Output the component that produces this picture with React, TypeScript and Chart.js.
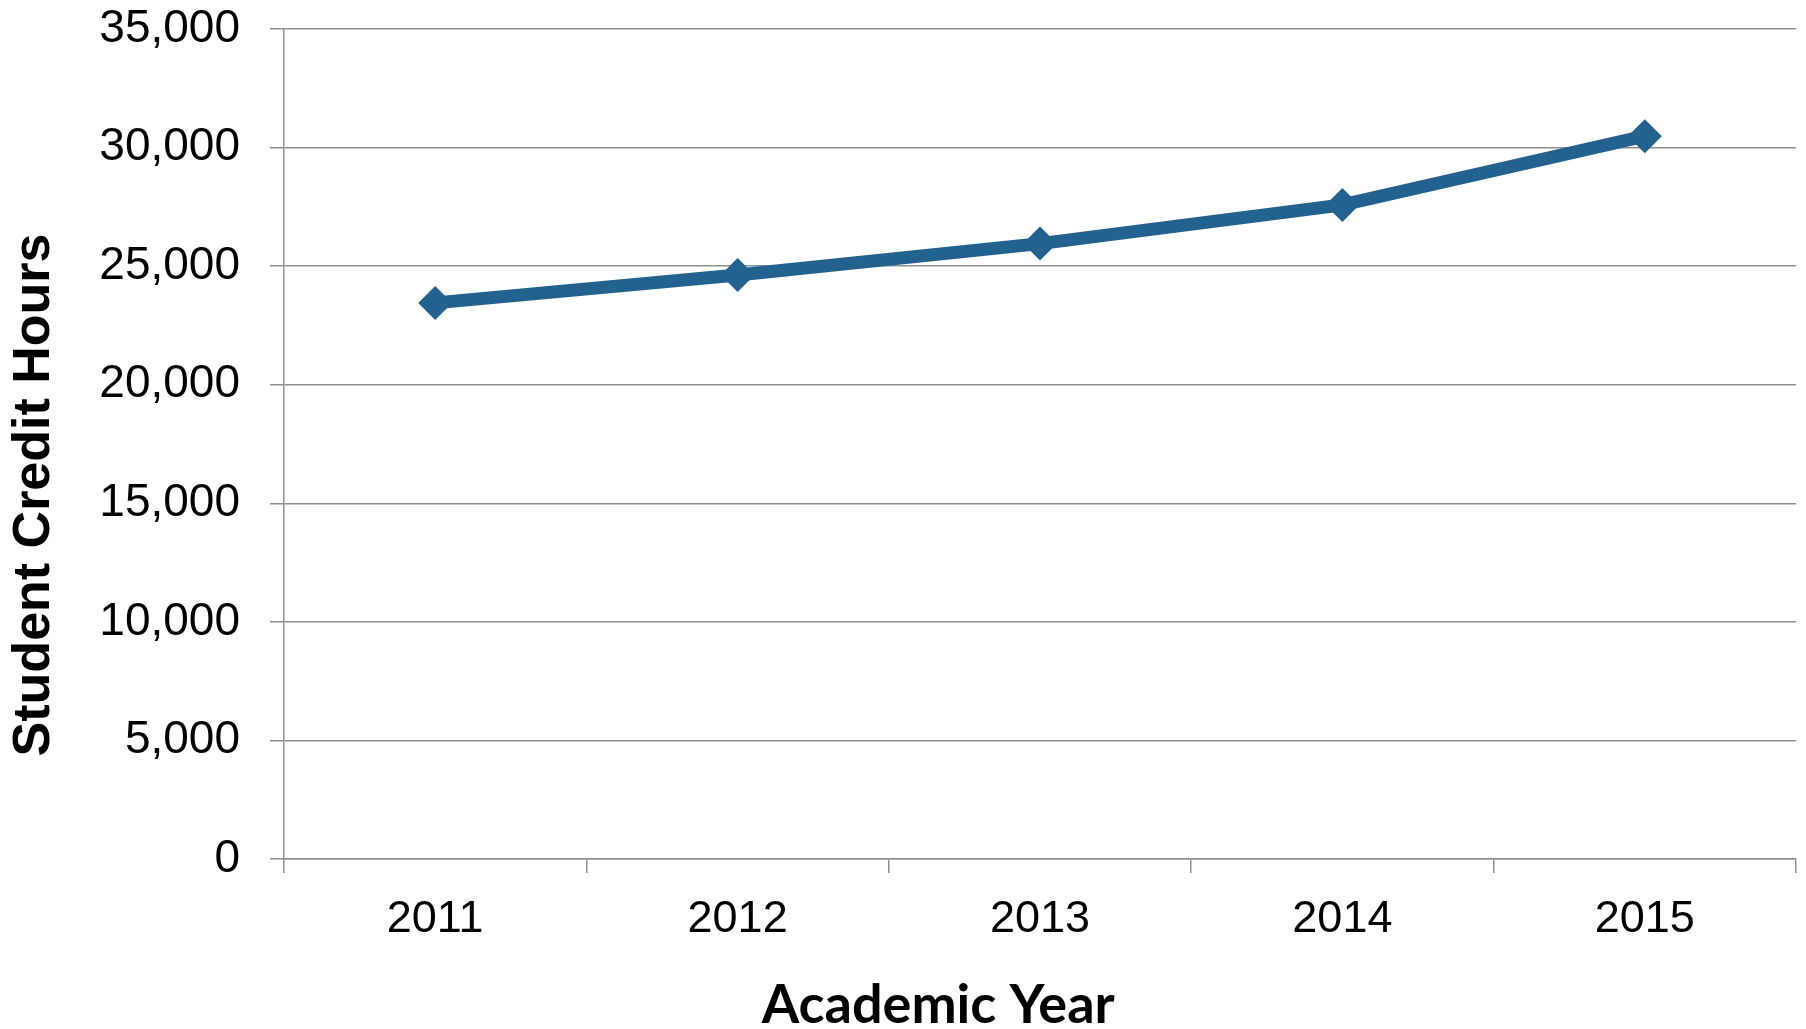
import React, { useEffect, useRef } from "react";
import { Chart, registerables } from "chart.js";

Chart.register(...registerables);

const years: string[] = ["2011", "2012", "2013", "2014", "2015"];
const creditHours: number[] = [23450, 24630, 25950, 27580, 30480];
const yMin = 0;
const yMax = 35000;
const yStep = 5000;
const xTitle = "Academic Year";
const yTitle = "Student Credit Hours";

const W = 1806;
const H = 1029;

export default function App() {
  const ref = useRef<HTMLCanvasElement | null>(null);

  useEffect(() => {
    document.body.style.margin = "0";
    const canvas = ref.current;
    if (!canvas) return;

    const titlePlugin = {
      id: "axisTitles",
      afterDraw(chart: any) {
        const ctx = chart.ctx as CanvasRenderingContext2D;
        ctx.save();
        ctx.fillStyle = "#000";
        ctx.textAlign = "center";
        ctx.textBaseline = "middle";
        ctx.font = "bold 54px Lato";
        ctx.fillText(xTitle, chart.width * 0.5195, chart.height * 0.977);
        ctx.translate(chart.width * 0.019, chart.height * 0.481);
        ctx.rotate(-Math.PI / 2);
        ctx.font = "bold 52px 'Liberation Sans'";
        ctx.fillText(yTitle, 0, 0);
        ctx.restore();
      },
    };

    const chart = new Chart(canvas, {
      type: "line",
      data: {
        labels: years,
        datasets: [
          {
            data: creditHours,
            borderColor: "#23618f",
            backgroundColor: "#23618f",
            borderWidth: 13,
            pointStyle: "rectRot",
            pointRadius: 17,
            pointHoverRadius: 17,
            pointBorderWidth: 0,
            pointBackgroundColor: "#23618f",
            tension: 0,
            clip: false as any,
          },
        ],
      },
      options: {
        responsive: false,
        animation: false,
        devicePixelRatio: 1,
        layout: { autoPadding: false, padding: { top: 29, right: 10, left: 0, bottom: 0 } },
        plugins: {
          legend: { display: false },
          tooltip: { enabled: false },
          title: { display: false },
        },
        scales: {
          x: {
            type: "category",
            offset: true,
            grid: {
              offset: true,
              drawOnChartArea: false,
              drawTicks: true,
              tickLength: 14,
              color: "#8f8f8f",
              lineWidth: 1.5,
            },
            border: { display: true, color: "#8f8f8f", width: 1.5 },
            ticks: {
              color: "#000",
              font: { family: "'Liberation Sans'", size: 45 },
              padding: 20,
              maxRotation: 0,
            },
            afterFit(scale: any) {
              scale.height = 170;
              scale.paddingLeft = 0;
              scale.paddingRight = 0;
            },
          },
          y: {
            min: yMin,
            max: yMax,
            ticks: {
              stepSize: yStep,
              color: "#000",
              font: { family: "'Liberation Sans'", size: 46 },
              padding: 30,
              callback: (v: any) => Number(v).toLocaleString("en-US"),
            },
            grid: {
              color: "#8f8f8f",
              lineWidth: 1.5,
              tickLength: 14,
              drawTicks: true,
            },
            border: { display: true, color: "#8f8f8f", width: 1.5 },
            afterFit(scale: any) {
              scale.width = 284;
              scale.paddingTop = 0;
              scale.paddingBottom = 0;
            },
          },
        },
      },
      plugins: [titlePlugin],
    });

    return () => chart.destroy();
  }, []);

  return (
    <div style={{ position: "absolute", left: 0, top: 0, width: W, height: H, background: "#fff" }}>
      <canvas ref={ref} width={W} height={H} style={{ width: W, height: H, display: "block" }} />
    </div>
  );
}
